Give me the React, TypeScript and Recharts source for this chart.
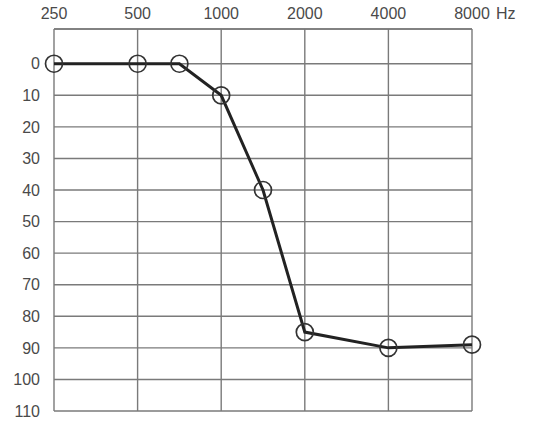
import { LineChart, Line, XAxis, YAxis, CartesianGrid, ReferenceLine } from "recharts"

// Audiogram: frequencies drawn at octave positions (half-octave for 750 / 1500 Hz)
const frequencies = [250, 500, 750, 1000, 1500, 2000, 4000, 8000]
const octavePositions = [0, 1, 1.5, 2, 2.5, 3, 4, 5]
const thresholds = [0, 0, 0, 10, 40, 85, 90, 89]

const freqTickLabels = ["250", "500", "1000", "2000", "4000", "8000"]
const freqTicks = [0, 1, 2, 3, 4, 5]
const dbTicks = [0, 10, 20, 30, 40, 50, 60, 70, 80, 90, 100, 110]

const data = frequencies.map((f, i) => ({ freq: f, pos: octavePositions[i], db: thresholds[i] }))

const FONT = "'Liberation Sans', Arial, sans-serif"
const TEXT = "#4a4a4a"
const GRID = "#7a7a7a"

const FreqTick = (props: any) => {
  const { x, payload } = props
  const label = freqTickLabels[payload.index] ?? ""
  const last = payload.index === freqTickLabels.length - 1
  const baseline = 19
  return (
    <g>
      <text x={x} y={baseline} fontFamily={FONT} fontSize={16} fill={TEXT} textAnchor="middle">
        {label}
      </text>
      {last && (
        <text x={x + 24} y={baseline} fontFamily={FONT} fontSize={16} fill={TEXT} textAnchor="start">
          Hz
        </text>
      )}
    </g>
  )
}

const OpenCircle = (props: any) => {
  const { cx, cy } = props
  if (cx == null || cy == null) return null
  return <circle cx={cx} cy={cy} r={8.5} fill="none" stroke="#333" strokeWidth={1.7} />
}

export default function App() {
  return (
    <div style={{ position: "absolute", left: 0, top: 0, background: "#fff" }}>
      <LineChart width={536} height={426} data={data} margin={{ top: 0, right: 64, bottom: 15, left: 0 }}>
        <CartesianGrid stroke={GRID} strokeWidth={1.4} />
        <XAxis
          dataKey="pos"
          type="number"
          orientation="top"
          domain={[0, 5]}
          ticks={freqTicks}
          height={29}
          axisLine={false}
          tickLine={false}
          tickSize={0}
          tick={<FreqTick />}
        />
        <YAxis
          type="number"
          reversed
          domain={[-11, 110]}
          ticks={dbTicks}
          width={54}
          axisLine={false}
          tickLine={false}
          tickSize={0}
          tickMargin={14}
          tick={{ fontFamily: FONT, fontSize: 16, fill: TEXT }}
          interval={0}
        />
        <ReferenceLine y={-11} stroke={GRID} strokeWidth={1.4} />
        <Line
          dataKey="db"
          stroke="#222"
          strokeWidth={3}
          dot={<OpenCircle />}
          activeDot={false}
          isAnimationActive={false}
        />
      </LineChart>
    </div>
  )
}
